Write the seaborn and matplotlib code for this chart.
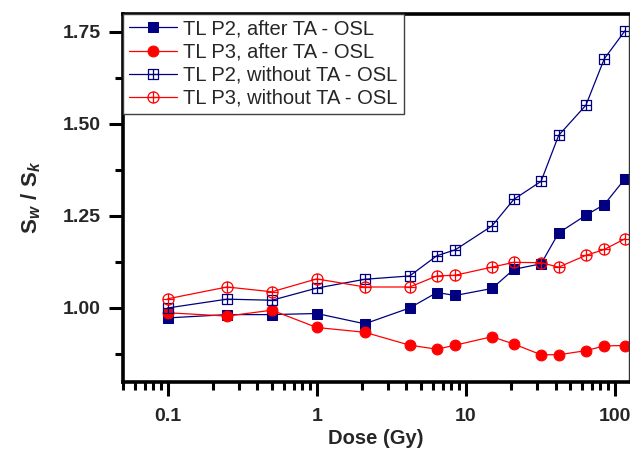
import numpy as np
import pandas as pd
import matplotlib
matplotlib.use("Agg")
import matplotlib.pyplot as plt
from matplotlib.path import Path
from matplotlib.ticker import FixedLocator, FixedFormatter, LogLocator, NullFormatter, MultipleLocator
import seaborn as sns

# ---- data ----
dose = [0.1, 0.25, 0.5, 1, 2.1, 4.2, 6.4, 8.5, 15, 21, 32, 42, 64, 85, 117]
p2_after = [0.973, 0.982, 0.982, 0.985, 0.957, 1.000, 1.042, 1.034, 1.053, 1.105,
            1.120, 1.204, 1.252, 1.281, 1.351]
p3_after = [0.987, 0.978, 0.994, 0.947, 0.934, 0.899, 0.888, 0.899, 0.922, 0.902,
            0.873, 0.873, 0.884, 0.897, 0.898]
p2_without = [1.000, 1.024, 1.021, 1.054, 1.078, 1.087, 1.142, 1.158, 1.223, 1.295,
              1.344, 1.469, 1.551, 1.677, 1.753]
p3_without = [1.025, 1.057, 1.044, 1.079, 1.057, 1.057, 1.087, 1.089, 1.111, 1.124,
              1.123, 1.111, 1.143, 1.159, 1.188]
labels = ["TL P2, after TA - OSL", "TL P3, after TA - OSL",
          "TL P2, without TA - OSL", "TL P3, without TA - OSL"]
xticks = [0.1, 1, 10, 100]
xticklabels = ["0.1", "1", "10", "100"]
yticks = [1.00, 1.25, 1.50, 1.75]
yticklabels = ["1.00", "1.25", "1.50", "1.75"]

sns.set_style("ticks")
plt.rcParams['font.family'] = ['Liberation Sans', 'DejaVu Sans']
plt.rcParams['mathtext.fontset'] = 'custom'
plt.rcParams['mathtext.rm'] = 'Liberation Sans:bold'
plt.rcParams['mathtext.it'] = 'Liberation Sans:italic:bold'
plt.rcParams['mathtext.bf'] = 'Liberation Sans:bold'

navy = "#000080"
red = "#FF0000"

# custom markers: square with cross, circle with cross
sq = Path([(-1, -1), (1, -1), (1, 1), (-1, 1), (-1, -1), (-1, 0), (1, 0), (0, -1), (0, 1)],
          [Path.MOVETO, Path.LINETO, Path.LINETO, Path.LINETO, Path.CLOSEPOLY,
           Path.MOVETO, Path.LINETO, Path.MOVETO, Path.LINETO])
circ = Path.unit_circle()
cross = Path([(-1, 0), (1, 0), (0, -1), (0, 1)],
             [Path.MOVETO, Path.LINETO, Path.MOVETO, Path.LINETO])
circ_plus = Path.make_compound_path(circ, cross)

fig = plt.figure(figsize=(6.3, 4.5), dpi=100)
ax = fig.add_axes([0.195, 0.152, 0.803, 0.818])

df = pd.DataFrame({"dose": dose, "p2a": p2_after, "p3a": p3_after,
                   "p2w": p2_without, "p3w": p3_without})

common = dict(estimator=None, sort=False, ax=ax, linewidth=0.9)
sns.lineplot(data=df, x="dose", y="p2a", color=navy, marker="s", markersize=6.8,
             markerfacecolor=navy, markeredgecolor=navy, label=labels[0], **common)
sns.lineplot(data=df, x="dose", y="p3a", color=red, marker="o", markersize=7.8,
             markerfacecolor=red, markeredgecolor=red, label=labels[1], **common)
sns.lineplot(data=df, x="dose", y="p2w", color=navy, marker=sq, markersize=7,
             markerfacecolor="none", markeredgecolor=navy, markeredgewidth=0.9,
             label=labels[2], **common)
sns.lineplot(data=df, x="dose", y="p3w", color=red, marker=circ_plus, markersize=8,
             markerfacecolor="none", markeredgecolor=red, markeredgewidth=0.9,
             label=labels[3], **common)

ax.set_xscale("log")
ax.set_xlim(0.05, 124)
ax.set_ylim(0.80, 1.80)

ax.xaxis.set_major_locator(FixedLocator(xticks))
ax.xaxis.set_major_formatter(FixedFormatter(xticklabels))
ax.xaxis.set_minor_locator(LogLocator(base=10, subs=np.arange(2, 10)))
ax.xaxis.set_minor_formatter(NullFormatter())
ax.yaxis.set_major_locator(FixedLocator(yticks))
ax.yaxis.set_major_formatter(FixedFormatter(yticklabels))
ax.yaxis.set_minor_locator(MultipleLocator(0.125))

ax.tick_params(which="major", direction="out", length=10, width=2.2,
               labelsize=14, color="black")
ax.tick_params(axis="x", which="major", pad=9)
ax.tick_params(axis="y", which="major", pad=6)
ax.tick_params(which="minor", direction="out", length=5.5, width=2.2, color="black")
ax.tick_params(axis="y", which="both", right=False)
ax.tick_params(axis="x", which="both", top=False)
for lab in ax.get_xticklabels() + ax.get_yticklabels():
    lab.set_fontweight("bold")

for side in ["left", "bottom", "top"]:
    ax.spines[side].set_linewidth(2.6)
    ax.spines[side].set_color("black")
ax.spines["right"].set_linewidth(1.0)
ax.spines["right"].set_color("#333333")

ax.set_xlabel("Dose (Gy)", fontsize=14.5, fontweight="bold", labelpad=3)
ax.set_ylabel(r"$\mathrm{S}_{w}\mathrm{\ /\ S}_{k}$", fontsize=16, labelpad=14)

leg = ax.legend(loc="upper left", borderaxespad=0.0, fontsize=14.5, frameon=True,
                fancybox=False, framealpha=1, edgecolor="#404040",
                handlelength=2.4, handletextpad=0.3, labelspacing=0.2,
                borderpad=0.3)
leg.get_frame().set_linewidth(1.0)

fig.savefig("out.png", dpi=100)
